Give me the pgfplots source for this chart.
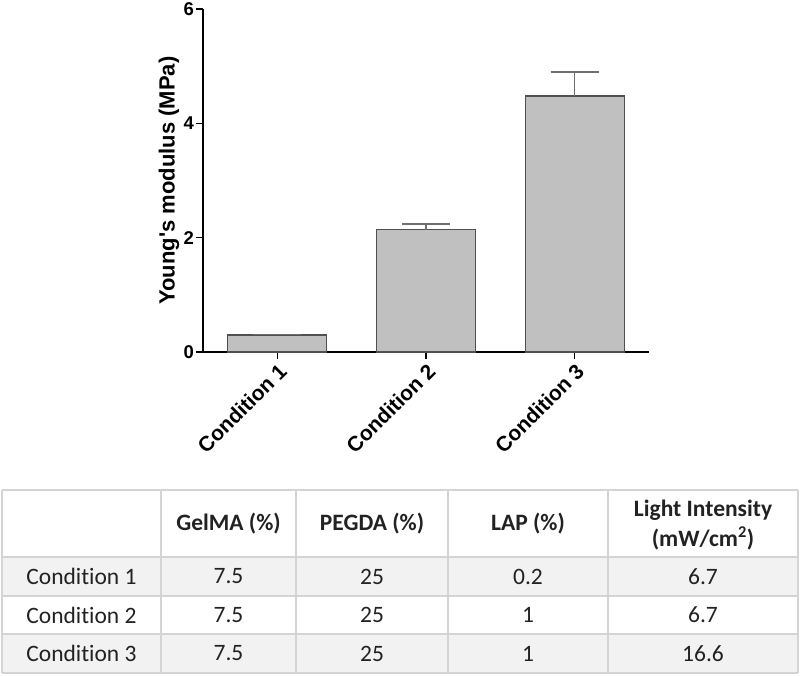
\documentclass[border=0pt]{standalone}
\usepackage{pgfplots}
\pgfplotsset{compat=1.18}
\usepackage{fontspec}
\setmainfont{Liberation Sans}
\newfontfamily\arial{Liberation Sans}
\newfontfamily\calfont[Ligatures=NoCommon]{Carlito}
\definecolor{barfill}{HTML}{C0C0C0}
\definecolor{baredge}{HTML}{505050}
\definecolor{errc}{HTML}{6E6E6E}
\definecolor{gridc}{HTML}{D4D4D4}
\definecolor{rowfill}{HTML}{F2F2F2}
\definecolor{tabtext}{HTML}{222222}
\begin{document}
\begin{tikzpicture}[x=1pt,y=1pt]
\path[use as bounding box] (0,0) rectangle (800,-675);
\begin{axis}[
  at={(203pt,-352pt)}, anchor=south west,
  scale only axis, width=446pt, height=343pt,
  xmin=-0.5, xmax=2.5, ymin=0, ymax=6,
  axis lines=left, axis line style={-, line width=1.8pt, black},
  ytick={0,2,4,6}, xtick={0,1,2},
  xticklabels={Condition 1,Condition 2,Condition 3},
  tick align=outside, major tick length=7pt,
  tick style={line width=1.5pt, black},
  /pgf/number format/assume math mode=true,
  yticklabel style={font=\arial\fontsize{18.5}{18.5}\selectfont\bfseries, inner sep=2pt},
  xticklabel style={font=\arial\fontsize{21}{21}\selectfont\bfseries, rotate=45, anchor=north east, inner sep=2pt},
  ylabel={Young's modulus (MPa)},
  ylabel style={font=\arial\fontsize{22}{22}\selectfont\bfseries, at={(axis description cs:-0.076,0.5)}, anchor=center},
  ybar, bar width=99pt,
]
\addplot[fill=barfill, draw=baredge, line width=1.3pt,
  error bars/.cd, y dir=plus, y explicit,
  error bar style={errc, line width=1.5pt},
  error mark options={rotate=90, mark size=24pt, errc, line width=1.5pt}]
  coordinates {(0,0.30) +- (0,0.01) (1,2.14) +- (0,0.10) (2,4.48) +- (0,0.42)};
\end{axis}
% table
\fill[rowfill] (2,-557) rectangle (798,-596);
\fill[rowfill] (2,-634) rectangle (798,-673);
\begin{scope}[gridc, line width=1.5pt]
\foreach \yy in {-490,-596,-634,-673} \draw (2,\yy) -- (798,\yy);
\draw[line width=2.5pt] (2,-557) -- (798,-557);
\foreach \xx in {2,161,296,448,608,798} \draw (\xx,-490) -- (\xx,-673);
\end{scope}
\begin{scope}[every node/.style={text=tabtext, font=\calfont\fontsize{23.5}{29}\selectfont, anchor=center, inner sep=0pt}]
\node[font=\calfont\fontsize{23.5}{29}\selectfont\bfseries] at (228.5,-523.5) {GelMA (\%)};
\node[font=\calfont\fontsize{23.5}{29}\selectfont\bfseries] at (372,-523.5) {PEGDA (\%)};
\node[font=\calfont\fontsize{23.5}{29}\selectfont\bfseries] at (528,-523.5) {LAP (\%)};
\node[font=\calfont\fontsize{23.5}{30}\selectfont\bfseries, align=center] at (703,-525) {Light Intensity\\(mW/cm\textsuperscript{2})};
\node at (81.5,-576.5) {Condition 1};
\node at (81.5,-615) {Condition 2};
\node at (81.5,-653.5) {Condition 3};
\node at (228.5,-576.5) {7.5};
\node at (228.5,-615) {7.5};
\node at (228.5,-653.5) {7.5};
\node at (372,-576.5) {25};
\node at (372,-615) {25};
\node at (372,-653.5) {25};
\node at (528,-576.5) {0.2};
\node at (528,-615) {1};
\node at (528,-653.5) {1};
\node at (703,-576.5) {6.7};
\node at (703,-615) {6.7};
\node at (703,-653.5) {16.6};
\end{scope}
\end{tikzpicture}
\end{document}
